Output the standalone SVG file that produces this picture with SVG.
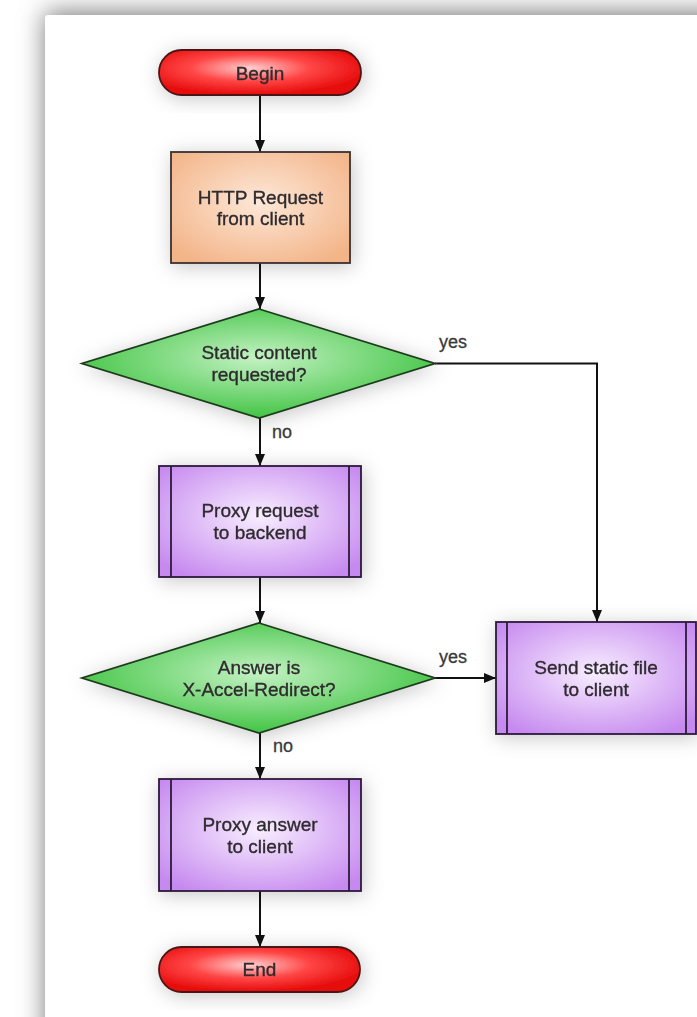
<svg xmlns="http://www.w3.org/2000/svg" width="697" height="1017" viewBox="0 0 697 1017">
  <style>
    .lbl { font-family: "Liberation Sans", Arial, sans-serif; font-size: 19px; fill: #2e2a2e; stroke: #2e2a2e; stroke-width: 0.35; text-anchor: middle; }
    .edge { font-family: "Liberation Sans", Arial, sans-serif; font-size: 18px; fill: #3a3a3a; stroke: #3a3a3a; stroke-width: 0.3; }
    .conn { stroke: #111; stroke-width: 2; fill: none; }
    .term { fill: url(#gRed); stroke: #4a1515; stroke-width: 1.8; }
    .proc { fill: url(#gOrange); stroke: #3a3030; stroke-width: 1.8; }
    .dec { fill: url(#gGreen); stroke: #1d3a1d; stroke-width: 1.8; }
    .pre { fill: url(#gPurple); stroke: #2c1a3a; stroke-width: 1.8; }
    .preline { stroke: #2c1a3a; stroke-width: 1.8; }
  </style>
  <defs>
    <radialGradient id="gRed" cx="0.45" cy="0.4" r="0.6">
      <stop offset="0" stop-color="#ffd0d0"/>
      <stop offset="0.5" stop-color="#ff4545"/>
      <stop offset="1" stop-color="#e60a0a"/>
    </radialGradient>
    <radialGradient id="gOrange" cx="0.5" cy="0.45" r="0.65">
      <stop offset="0" stop-color="#fde8d8"/>
      <stop offset="1" stop-color="#f3b488"/>
    </radialGradient>
    <radialGradient id="gGreen" cx="0.5" cy="0.45" r="0.6">
      <stop offset="0" stop-color="#c4f2c4"/>
      <stop offset="1" stop-color="#36c038"/>
    </radialGradient>
    <radialGradient id="gPurple" cx="0.5" cy="0.45" r="0.65">
      <stop offset="0" stop-color="#f8eeff"/>
      <stop offset="1" stop-color="#c689ef"/>
    </radialGradient>
    <filter id="shadow" x="-30%" y="-40%" width="160%" height="180%">
      <feDropShadow dx="2" dy="3" stdDeviation="10" flood-color="#000" flood-opacity="0.22"/>
    </filter>
    <filter id="cardShadow" x="-20%" y="-20%" width="140%" height="140%">
      <feGaussianBlur stdDeviation="13"/>
    </filter>
    <marker id="arrow" markerWidth="12" markerHeight="12" refX="12" refY="5" orient="auto" markerUnits="userSpaceOnUse">
      <path d="M0,0 L12,5 L0,10 z" fill="#111"/>
    </marker>
  </defs>

  <rect x="0" y="0" width="697" height="1017" fill="#ffffff"/>
  <rect x="45" y="12" width="720" height="1060" fill="#7a7a7a" filter="url(#cardShadow)"/>
  <rect x="45" y="15" width="720" height="1060" rx="3" fill="#ffffff"/>

  <g id="connectors">
    <line class="conn" x1="260" y1="95" x2="260" y2="152" marker-end="url(#arrow)"/>
    <line class="conn" x1="260" y1="263" x2="260" y2="309" marker-end="url(#arrow)"/>
    <line class="conn" x1="260" y1="418" x2="260" y2="466" marker-end="url(#arrow)"/>
    <line class="conn" x1="260" y1="577" x2="260" y2="623" marker-end="url(#arrow)"/>
    <line class="conn" x1="260" y1="733" x2="260" y2="779" marker-end="url(#arrow)"/>
    <line class="conn" x1="260" y1="891" x2="260" y2="947" marker-end="url(#arrow)"/>
    <polyline class="conn" points="435,363.5 597,363.5 597,622" marker-end="url(#arrow)"/>
    <line class="conn" x1="435" y1="678" x2="496" y2="678" marker-end="url(#arrow)"/>
    <text class="edge" x="439" y="348">yes</text>
    <text class="edge" x="439" y="663">yes</text>
    <text class="edge" x="272" y="438">no</text>
    <text class="edge" x="273" y="752">no</text>
  </g>

  <g id="begin" filter="url(#shadow)">
    <rect class="term" x="159" y="50" width="202" height="45" rx="22.5"/>
    <text class="lbl" x="260" y="79.5">Begin</text>
  </g>

  <g id="http-request" filter="url(#shadow)">
    <rect class="proc" x="171" y="152" width="179" height="111"/>
    <text class="lbl" x="260.5" y="204">HTTP Request</text>
    <text class="lbl" x="260.5" y="225">from client</text>
  </g>

  <g id="static-decision" filter="url(#shadow)">
    <polygon class="dec" points="259,309 435,363.5 259,418 82,363.5"/>
    <text class="lbl" x="259" y="359">Static content</text>
    <text class="lbl" x="259" y="381">requested?</text>
  </g>

  <g id="proxy-request" filter="url(#shadow)">
    <rect class="pre" x="159" y="466" width="202" height="111"/>
    <line class="preline" x1="171" y1="466" x2="171" y2="577"/>
    <line class="preline" x1="349" y1="466" x2="349" y2="577"/>
    <text class="lbl" x="260" y="517">Proxy request</text>
    <text class="lbl" x="260" y="539">to backend</text>
  </g>

  <g id="accel-decision" filter="url(#shadow)">
    <polygon class="dec" points="259,623 435,678 259,733 82,678"/>
    <text class="lbl" x="259" y="674">Answer is</text>
    <text class="lbl" x="259" y="696">X-Accel-Redirect?</text>
  </g>

  <g id="send-static" filter="url(#shadow)">
    <rect class="pre" x="496" y="622" width="200" height="112"/>
    <line class="preline" x1="507" y1="622" x2="507" y2="734"/>
    <line class="preline" x1="686" y1="622" x2="686" y2="734"/>
    <text class="lbl" x="596" y="674">Send static file</text>
    <text class="lbl" x="596" y="696">to client</text>
  </g>

  <g id="proxy-answer" filter="url(#shadow)">
    <rect class="pre" x="159" y="779" width="202" height="112"/>
    <line class="preline" x1="171" y1="779" x2="171" y2="891"/>
    <line class="preline" x1="349" y1="779" x2="349" y2="891"/>
    <text class="lbl" x="260" y="831">Proxy answer</text>
    <text class="lbl" x="260" y="853">to client</text>
  </g>

  <g id="end" filter="url(#shadow)">
    <rect class="term" x="159" y="947" width="201" height="45" rx="22.5"/>
    <text class="lbl" x="259.5" y="976">End</text>
  </g>
</svg>
